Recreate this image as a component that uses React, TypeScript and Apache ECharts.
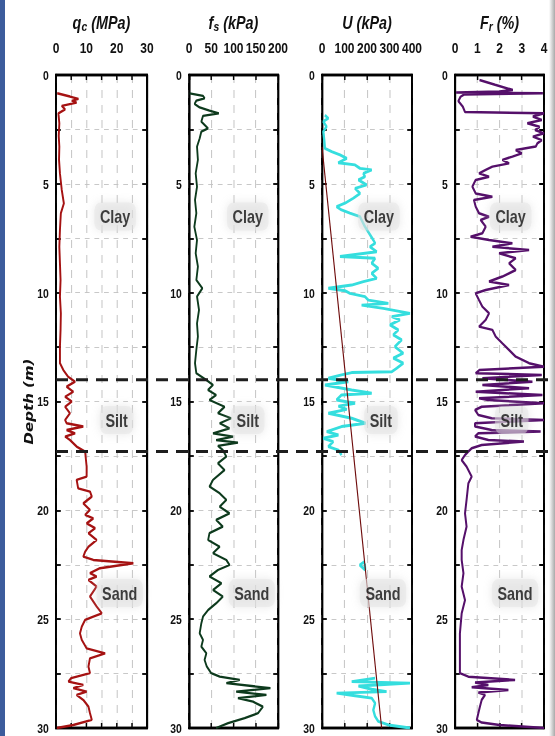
import React, { useEffect, useRef } from "react";
import * as echarts from "echarts";

// ---------- data (depth in m, value) ----------
const qcProfile: [number, number][] = [
  [0.84, 0.4], [0.99, 4.6], [1.1, 7.4], [1.19, 5.2], [1.27, 6.8], [1.42, 1.9], [1.58, 3.0], [1.76, 0.8],
  [2.22, 1.1], [2.8, 0.9], [3.29, 1.1], [3.9, 1.0], [4.52, 1.3], [5.28, 1.9], [5.9, 2.6], [6.35, 1.6],
  [7.12, 1.3], [7.89, 1.1], [8.65, 1.3], [9.42, 1.5], [10.18, 1.3], [10.95, 1.6], [11.71, 1.5], [12.48, 1.3],
  [13.24, 1.3], [13.55, 2.4], [13.86, 4.0], [14.09, 6.3], [14.32, 3.5], [14.55, 5.7], [14.78, 3.0], [15.0, 5.2],
  [15.24, 3.0], [15.54, 4.6], [15.85, 3.0], [16.0, 3.5], [16.15, 9.0], [16.31, 3.5], [16.46, 6.3], [16.61, 3.0],
  [16.77, 4.6], [17.07, 6.8], [17.3, 9.6], [17.99, 10.1], [18.45, 10.1], [18.6, 6.8], [18.99, 7.3], [19.14, 11.2],
  [19.37, 11.8], [19.68, 9.0], [19.98, 11.2], [20.21, 9.6], [20.37, 12.3], [20.6, 10.1], [20.82, 12.9], [21.05, 10.7],
  [21.36, 13.4], [21.67, 10.7], [21.9, 9.6], [22.13, 9.0], [22.28, 12.3], [22.43, 25.5], [22.66, 14.5], [22.89, 11.2],
  [23.04, 13.4], [23.2, 10.7], [23.5, 13.4], [23.96, 11.2], [24.42, 13.4], [24.73, 15.1], [24.88, 12.3], [25.03, 9.6],
  [25.34, 8.5], [25.65, 7.9], [25.95, 8.5], [26.34, 10.1], [26.57, 16.2], [26.8, 11.2], [27.18, 10.7], [27.48, 11.2],
  [27.71, 5.0], [27.87, 4.1], [28.02, 9.0], [28.17, 5.7], [28.33, 10.1], [28.48, 6.8], [28.71, 9.0], [29.02, 10.7],
  [29.32, 11.2], [29.63, 11.8], [29.86, 5.7], [30.0, 0.3],
];

const fsProfile: [number, number][] = [
  [0.84, 1.5], [0.96, 31.5], [1.07, 35], [1.18, 16.5], [1.33, 12.7], [1.49, 24], [1.64, 46], [1.76, 67],
  [1.88, 31.5], [2.14, 27.7], [2.45, 42.7], [2.6, 27.7], [2.91, 24], [3.29, 18], [3.9, 20], [4.52, 15],
  [5.13, 18], [5.74, 13.5], [6.35, 16.5], [6.97, 12], [7.58, 18], [8.19, 15], [8.8, 20], [9.42, 16.5],
  [9.8, 30], [10.18, 18], [10.8, 22.5], [11.41, 18], [12.02, 20], [12.63, 16.5], [13.24, 13.5], [13.7, 16.5],
  [14.01, 39], [14.24, 54], [14.47, 42.7], [14.7, 61], [14.93, 46], [15.24, 80], [15.54, 65], [15.77, 95],
  [16.0, 69], [16.23, 91], [16.46, 54], [16.61, 99], [16.77, 61], [16.89, 110], [17.04, 65], [17.23, 76],
  [17.53, 84], [17.84, 65], [18.15, 80], [18.6, 54], [18.91, 46], [19.22, 69], [19.52, 84], [19.83, 69],
  [20.14, 91], [20.44, 61], [20.75, 76], [21.05, 46], [21.36, 43], [21.67, 69], [21.97, 54], [22.28, 84],
  [22.51, 91], [22.74, 65], [23.04, 46], [23.35, 73], [23.66, 54], [23.96, 76], [24.27, 61], [24.58, 43],
  [24.88, 31.5], [25.19, 27.7], [25.65, 24], [25.95, 31.5], [26.26, 27.7], [26.57, 39], [26.87, 35], [27.18, 40],
  [27.48, 50], [27.64, 69], [27.79, 114], [27.94, 84], [28.17, 183], [28.33, 106], [28.48, 174], [28.63, 110],
  [28.79, 144], [29.02, 166], [29.32, 155], [29.55, 125], [29.78, 88], [30.0, 61],
];

const uProfileUpper: [number, number][] = [
  [1.84, 13], [1.99, 28], [2.14, 6], [2.37, 20], [2.6, 6], [2.99, 10], [3.37, 13], [3.52, 43],
  [3.67, 80], [3.83, 110], [4.03, 72], [4.13, 147], [4.29, 169], [4.36, 221], [4.52, 184], [4.67, 191],
  [4.82, 162], [5.05, 198], [5.21, 147], [5.44, 169], [5.66, 139], [5.89, 102], [6.05, 65], [6.2, 87],
  [6.35, 124], [6.51, 169], [6.97, 191], [7.58, 228], [7.73, 236], [7.89, 213], [8.12, 243], [8.34, 80],
  [8.42, 236], [8.65, 221], [8.88, 250], [9.11, 221], [9.34, 243], [9.49, 184], [9.65, 132], [9.8, 28],
  [9.91, 102], [10.03, 124], [10.18, 191], [10.34, 206], [10.49, 295], [10.57, 176], [10.72, 272], [10.95, 391],
  [11.1, 310], [11.25, 346], [11.48, 302], [11.71, 339], [11.94, 317], [12.17, 354], [12.48, 324], [12.78, 361],
  [13.01, 317], [13.24, 361], [13.47, 332], [13.63, 310], [13.67, 132], [13.78, 87], [13.93, 28], [14.09, 117],
  [14.24, 13], [14.47, 132], [14.62, 221], [14.7, 87], [14.93, 65], [15.08, 147], [15.21, 73], [15.36, 110],
  [15.54, 28], [15.77, 132], [16.0, 194], [16.15, 87], [16.38, 21], [16.54, 73], [16.69, 6], [16.84, 50],
  [17.07, 28], [17.23, 73], [17.46, 87],
];
const uProfileLoop: [number, number][] = [[22.36, 188], [22.51, 168], [22.74, 192], [22.45, 190]];
const uProfileDeep: [number, number][] = [
  [27.71, 236], [27.87, 132], [27.94, 391], [28.07, 162], [28.22, 221], [28.33, 287], [28.4, 65], [28.52, 147],
  [28.63, 221], [28.86, 236], [29.17, 228], [29.47, 236], [29.7, 250], [29.86, 295], [30.0, 391],
];
const uHydrostatic: [number, number][] = [[3.3, 0], [30, 265]];

const frProfile: [number, number][] = [
  [0.23, 1.1], [0.45, 1.8], [0.69, 2.6], [0.76, 2.0], [0.8, 0.05], [0.84, 3.95], [0.9, 0.4], [1.0, 0.25],
  [1.2, 0.15], [1.45, 0.35], [1.7, 0.45], [1.76, 4.0], [1.91, 3.5], [2.07, 3.9], [2.22, 3.25], [2.38, 3.8],
  [2.53, 3.6], [2.68, 4.0], [2.83, 3.5], [2.99, 3.9], [3.14, 3.7], [3.29, 3.63], [3.45, 2.73], [3.6, 3.0],
  [3.75, 2.58], [3.9, 2.13], [4.06, 2.43], [4.21, 1.68], [4.36, 1.38], [4.52, 1.08], [4.67, 1.53], [4.82, 0.93],
  [5.13, 0.78], [5.44, 0.93], [5.59, 1.68], [5.74, 0.85], [6.05, 0.93], [6.35, 1.08], [6.51, 1.53], [6.66, 1.15],
  [6.97, 1.38], [7.27, 1.23], [7.43, 0.7], [7.58, 1.53], [7.73, 2.58], [7.89, 1.68], [8.04, 3.33], [8.19, 1.98],
  [8.42, 2.73], [8.65, 2.43], [8.96, 2.73], [9.26, 2.13], [9.49, 1.53], [9.65, 2.43], [9.88, 1.38], [10.03, 0.93],
  [10.34, 1.08], [10.64, 1.23], [10.95, 1.53], [11.25, 1.38], [11.56, 1.08], [11.71, 1.68], [12.02, 1.83], [12.33, 2.13],
  [12.63, 2.43], [12.94, 2.73], [13.24, 3.33], [13.4, 4.0], [13.55, 1.1], [13.7, 0.93], [13.78, 3.9], [13.93, 1.23],
  [14.09, 3.48], [14.24, 1.23], [14.39, 3.33], [14.55, 0.93], [14.7, 3.93], [14.85, 1.08], [14.93, 1.5], [15.08, 4.0],
  [15.24, 1.2], [15.39, 0.9], [15.62, 1.05], [15.77, 1.65], [15.85, 4.0], [16.0, 0.9], [16.15, 0.9], [16.31, 1.65],
  [16.38, 3.85], [16.46, 1.05], [16.61, 0.9], [16.77, 1.5], [16.84, 3.1], [17.0, 1.2], [17.15, 0.75], [17.3, 0.6],
  [17.46, 0.45], [17.69, 0.3], [17.99, 0.52], [18.45, 0.75], [18.76, 0.6], [19.52, 0.52], [20.14, 0.45], [20.75, 0.52],
  [21.36, 0.38], [21.82, 0.3], [22.28, 0.3], [22.89, 0.38], [23.5, 0.3], [24.12, 0.45], [24.73, 0.3], [25.65, 0.22],
  [26.41, 0.22], [27.18, 0.22], [27.48, 0.22], [27.64, 0.6], [27.79, 2.7], [27.91, 0.9], [28.02, 1.5], [28.13, 0.75],
  [28.25, 2.4], [28.37, 1.05], [28.48, 1.35], [28.71, 1.2], [29.02, 1.12], [29.32, 1.05], [29.63, 0.98], [29.75, 1.2],
  [29.86, 2.0], [30.0, 4.0],
];

const layerNames = ["Clay", "Silt", "Sand"];
const layerLabelDepths = [6.5, 15.85, 23.8];
const layerBoundaries = [14.0, 17.3];
const qcLabelX = [19.5, 20, 21];
const fsLabelX = [132, 132, 141];
const uLabelX = [253, 262, 271];
const frLabelX = [2.5, 2.55, 2.7];

const depthRange = [0, 30];
const depthTickStep = 2.5;
const depthLabelStep = 5;

// ---------- layout / style ----------
// The reference figure is horizontally compressed; the chart is laid out wider and squeezed with CSS.
const SX = 0.8;
const W = 555 / SX;
const H = 736;
const px = (x: number) => x / SX;
const FONT = "'Liberation Sans', Arial, sans-serif";
const TOP = 75;
const HEIGHT = 653;
const LEFTS = [56, 189, 322, 455].map(px);
const WIDTHS = [91, 89, 90, 89].map(px);

const panels = [
  { sym: "q", sub: "c", unit: " (MPa)", min: 0, max: 30, interval: 5, labelStep: 10, color: "#a51212", width: 2.4, labelX: qcLabelX },
  { sym: "f", sub: "s", unit: " (kPa)", min: 0, max: 200, interval: 50, labelStep: 50, color: "#0d3a1d", width: 2.3, labelX: fsLabelX },
  { sym: "U", sub: "", unit: " (kPa)", min: 0, max: 400, interval: 100, labelStep: 100, color: "#35dede", width: 2.9, labelX: uLabelX },
  { sym: "F", sub: "r", unit: " (%)", min: 0, max: 4, interval: 1, labelStep: 1, color: "#55106a", width: 2.5, labelX: frLabelX },
];

const toXY = (arr: [number, number][]) => arr.map(([d, v]) => [v, d]);

export default function App() {
  const ref = useRef<HTMLDivElement>(null);
  useEffect(() => {
    if (!ref.current) return;
    const chart = echarts.init(ref.current, undefined, { renderer: "svg" });
    const axisLineStyle = { color: "#000", width: 2.4 };
    const tickStyle = { color: "#000", width: 1.8 };
    const grids: any[] = panels.map((_, i) => ({
      left: LEFTS[i], top: TOP, width: WIDTHS[i], height: HEIGHT,
      show: true, borderColor: "#000", borderWidth: 2.4, backgroundColor: "transparent",
      containLabel: false, outerBoundsMode: "none",
    }));
    grids.push({ left: LEFTS[0], top: TOP, width: px(497), height: HEIGHT, show: false, containLabel: false, outerBoundsMode: "none" });

    const xAxes: any[] = [];
    panels.forEach((p, i) => {
      xAxes.push({
        gridIndex: i, type: "value", position: "top", min: p.min, max: p.max, interval: p.interval,
        axisLine: { show: true, onZero: false, lineStyle: axisLineStyle },
        axisTick: { show: true, inside: true, length: 5, lineStyle: tickStyle },
        axisLabel: {
          show: true, showMinLabel: true, showMaxLabel: true, hideOverlap: false,
          margin: 19, fontSize: 15, fontWeight: "bold", fontFamily: FONT, color: "#111",
          formatter: (v: number) => (Math.abs(v % p.labelStep) < 1e-9 ? String(v) : ""),
        },
        splitLine: { show: true, lineStyle: { color: "#c2c2c2", type: [8, 7], width: 1.2 } },
      });
    });
    panels.forEach((p, i) => {
      xAxes.push({
        gridIndex: i, type: "value", position: "bottom", min: p.min, max: p.max, interval: p.interval,
        axisLine: { show: true, onZero: false, lineStyle: axisLineStyle },
        axisTick: { show: true, inside: true, length: 5, lineStyle: tickStyle },
        axisLabel: { show: false }, splitLine: { show: false },
      });
    });
    xAxes.push({ gridIndex: 4, type: "value", min: 0, max: 1, show: false });

    const yAxes: any[] = [];
    panels.forEach((_, i) => {
      yAxes.push({
        gridIndex: i, type: "value", inverse: true, min: depthRange[0], max: depthRange[1], interval: depthTickStep,
        name: i === 0 ? "Depth (m)" : "", nameLocation: "middle", nameGap: px(20), nameRotate: 90,
        nameTextStyle: { fontFamily: "'DejaVu Sans', sans-serif", fontWeight: "bold", fontStyle: "italic", fontSize: 15, color: "#111" },
        axisLine: { show: true, onZero: false, lineStyle: axisLineStyle },
        axisTick: { show: true, inside: true, length: 6, lineStyle: tickStyle },
        axisLabel: {
          show: true, showMinLabel: true, showMaxLabel: true, margin: 9, fontSize: 13, fontWeight: "bold", fontFamily: FONT, color: "#111",
          formatter: (v: number) => (Math.abs(v % depthLabelStep) < 1e-9 ? String(v) : ""),
        },
        splitLine: { show: true, lineStyle: { color: "#c2c2c2", type: [6, 6], width: 1 } },
      });
    });
    panels.forEach((_, i) => {
      yAxes.push({
        gridIndex: i, type: "value", inverse: true, position: "right", min: depthRange[0], max: depthRange[1], interval: depthTickStep,
        axisLine: { show: true, onZero: false, lineStyle: axisLineStyle },
        axisTick: { show: true, inside: true, length: 6, lineStyle: tickStyle },
        axisLabel: { show: false }, splitLine: { show: false },
      });
    });
    yAxes.push({ gridIndex: 4, type: "value", inverse: true, min: depthRange[0], max: depthRange[1], show: false });

    const curve = (i: number, data: [number, number][], color: string, width: number, z = 3) => ({
      type: "line", xAxisIndex: i, yAxisIndex: i, data: toXY(data), showSymbol: false, symbol: "none",
      lineStyle: { color, width }, z, silent: true, clip: true,
    });

    const series: any[] = [
      curve(0, qcProfile, panels[0].color, panels[0].width),
      curve(1, fsProfile, panels[1].color, panels[1].width),
      curve(2, uHydrostatic, "#6e0b0b", 1.4, 4),
      curve(2, uProfileUpper, panels[2].color, panels[2].width),
      curve(2, uProfileLoop, panels[2].color, panels[2].width),
      curve(2, uProfileDeep, panels[2].color, panels[2].width),
      curve(3, frProfile, panels[3].color, panels[3].width),
    ];
    panels.forEach((p, i) => {
      series.push({
        type: "scatter", xAxisIndex: i, yAxisIndex: i, symbolSize: 1, silent: true, z: 6,
        itemStyle: { color: "rgba(0,0,0,0)" },
        data: layerNames.map((n, k) => ({ name: n, value: [p.labelX[k], layerLabelDepths[k]] })),
        label: {
          show: true, position: "inside", formatter: "{b}", fontFamily: FONT, fontWeight: "bold", fontSize: 18, color: "#111",
          backgroundColor: "rgba(228,228,228,0.6)", padding: [5, 7], borderRadius: 8,
          shadowBlur: 10, shadowColor: "rgba(205,205,205,0.9)",
        },
      });
    });
    layerBoundaries.forEach((d) => {
      series.push({
        type: "line", xAxisIndex: 8, yAxisIndex: 8, data: [[0, d], [1, d]], showSymbol: false, symbol: "none",
        lineStyle: { color: "#1e1e1e", width: 3, type: [15, 10] }, z: 10, silent: true,
      });
    });

    const titleCenters = panels.map((_, i) => LEFTS[i] + WIDTHS[i] / 2);
    const tokenStyle = { fontFamily: FONT, fontWeight: "bold", fontStyle: "italic", fontSize: 18, fill: "#111", color: "#111" };
    const graphic: any[] = [
      { type: "rect", shape: { x: 0, y: 0, width: px(5), height: H }, style: { fill: "#3c5c9c" }, silent: true },
      {
        type: "rect", shape: { x: px(549), y: 0, width: px(6), height: H }, silent: true,
        style: { fill: new echarts.graphic.LinearGradient(0, 0, 1, 0, [{ offset: 0, color: "#ffffff" }, { offset: 1, color: "#a9a9a9" }]) },
      },
      ...panels.map((p, i) => ({
        type: "text", x: titleCenters[i], y: 22, silent: true,
        style: {
          text: p.sub ? `{i|${p.sym}}{s|${p.sub}}{i|${p.unit}}` : `{i|${p.sym}${p.unit}}`,
          align: "center", verticalAlign: "middle", textAlign: "center", textVerticalAlign: "middle",
          rich: {
            i: tokenStyle,
            s: { ...tokenStyle, fontSize: 13, padding: [9, 0, 0, 0] },
          },
        },
      })),
    ];

    chart.setOption({
      animation: false,
      backgroundColor: "#ffffff",
      grid: grids,
      xAxis: xAxes,
      yAxis: yAxes,
      series,
      graphic,
    });
    return () => chart.dispose();
  }, []);
  return (
    <div
      ref={ref}
      style={{
        position: "absolute", left: 0, top: 0, width: W, height: H,
        transform: `scaleX(${SX})`, transformOrigin: "0 0",
      }}
    />
  );
}
